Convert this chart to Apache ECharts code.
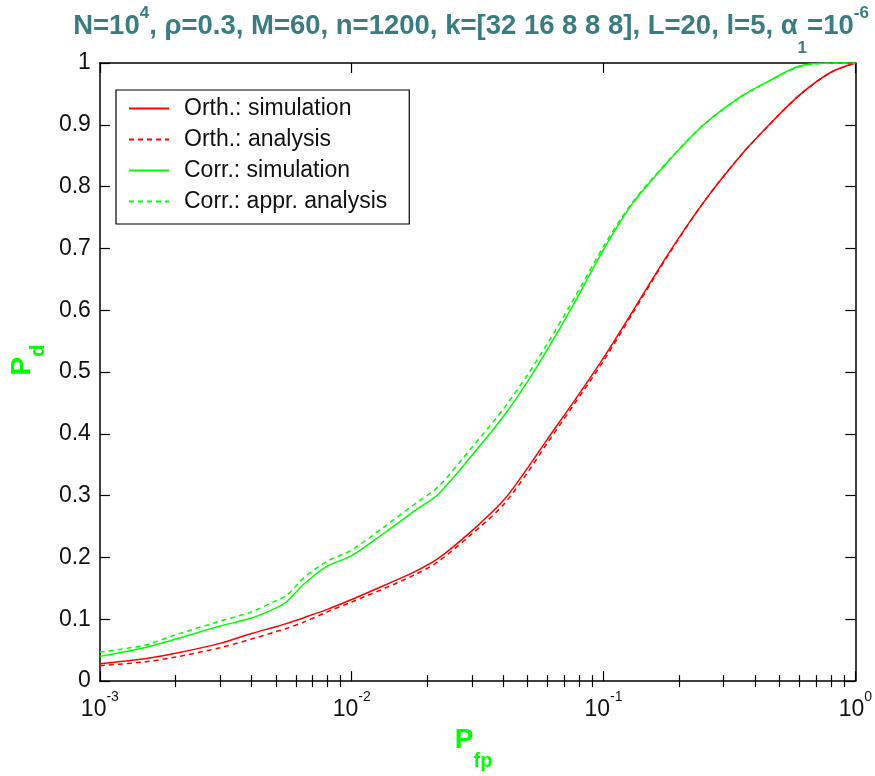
<!DOCTYPE html>
<html>
<head>
<meta charset="utf-8">
<script src="https://cdn.jsdelivr.net/npm/echarts@6/dist/echarts.min.js"></script>
<style>
html,body{margin:0;padding:0;background:#fff;}
#chart{width:875px;height:776px;}
</style>
</head>
<body>
<div id="chart"></div>
<script>
// ---- data ----
const pfp = [0.001, 0.0015, 0.002, 0.003, 0.004, 0.005, 0.0055, 0.0065, 0.008, 0.01, 0.0135, 0.018, 0.022, 0.03, 0.04, 0.05, 0.06, 0.075, 0.1, 0.13, 0.18, 0.25, 0.35, 0.45, 0.6, 0.8, 1.0];
const orthSim = [0.028, 0.036, 0.045, 0.061, 0.077, 0.088, 0.093, 0.103, 0.116, 0.132, 0.155, 0.178, 0.198, 0.243, 0.292, 0.345, 0.392, 0.448, 0.523, 0.597, 0.690, 0.775, 0.850, 0.898, 0.948, 0.985, 1.000];
const orthAna = [0.025, 0.031, 0.039, 0.054, 0.068, 0.080, 0.085, 0.096, 0.112, 0.128, 0.150, 0.173, 0.193, 0.238, 0.285, 0.338, 0.386, 0.443, 0.518, 0.594, 0.688, 0.775, 0.850, 0.898, 0.948, 0.985, 1.000];
const corrSim = [0.040, 0.054, 0.068, 0.089, 0.102, 0.118, 0.128, 0.158, 0.186, 0.203, 0.240, 0.277, 0.302, 0.365, 0.428, 0.485, 0.537, 0.605, 0.698, 0.772, 0.840, 0.900, 0.945, 0.970, 0.995, 1.000, 1.000];
const corrAna = [0.047, 0.058, 0.075, 0.097, 0.112, 0.130, 0.138, 0.168, 0.194, 0.212, 0.250, 0.288, 0.314, 0.378, 0.440, 0.496, 0.547, 0.613, 0.703, 0.774, 0.841, 0.900, 0.945, 0.970, 0.994, 1.000, 1.000];
const seriesNames = ['Orth.: simulation', 'Orth.: analysis', 'Corr.: simulation', 'Corr.: appr. analysis'];
const xMajorTicks = [0.001, 0.01, 0.1, 1];
const xMajorExp = ['-3', '-2', '-1', '0'];
const xMinorTicks = [0.002,0.003,0.004,0.005,0.006,0.007,0.008,0.009,0.02,0.03,0.04,0.05,0.06,0.07,0.08,0.09,0.2,0.3,0.4,0.5,0.6,0.7,0.8,0.9];
const yTickLabels = ['0','0.1','0.2','0.3','0.4','0.5','0.6','0.7','0.8','0.9','1'];

// ---- chart ----
const FONT = '"Liberation Sans", Arial, sans-serif';
const TITLE_C = '#3b7c80';
const RED = '#ff0000', GREEN = '#00ff00';

function pairs(ys){ return pfp.map((x,i)=>[x, ys[i]]); }

const baseLog = {type:'log', logBase:10, min:0.001, max:1, gridIndex:0, splitLine:{show:false}};
const tickLine = {color:'#000', width:1.2};

const xAxes = [
  Object.assign({}, baseLog, {
    position:'bottom',
    axisLine:{show:true, onZero:false, lineStyle:{color:'#000', width:1.5}},
    axisTick:{show:true, inside:true, length:10, customValues:xMajorTicks, lineStyle:tickLine},
    axisLabel:{show:true, margin:7, customValues:xMajorTicks,
      formatter:function(v){ const i = xMajorTicks.findIndex(t=>Math.abs(Math.log10(t)-Math.log10(v))<1e-6); return '{b|10}{s|' + xMajorExp[i] + '}'; },
      rich:{
        b:{fontFamily:FONT, fontSize:23, color:'#111', lineHeight:24, padding:[10,0,0,0], verticalAlign:'top'},
        s:{fontFamily:FONT, fontSize:14, color:'#111', lineHeight:14, padding:[2,0,0,0], verticalAlign:'top'}
      }},
    name:'{p|P}{s|fp}', nameLocation:'middle', nameGap:12,
    nameTextStyle:{padding:[0,8,0,0], rich:{
      p:{fontFamily:FONT, fontWeight:'bold', fontSize:28, color:GREEN, lineHeight:28, verticalAlign:'top'},
      s:{fontFamily:FONT, fontWeight:'bold', fontSize:20, color:GREEN, lineHeight:20, padding:[25,0,0,0], verticalAlign:'top'}
    }}
  }),
  Object.assign({}, baseLog, {
    position:'bottom', axisLine:{show:false},
    axisTick:{show:true, inside:true, length:6, customValues:xMinorTicks, lineStyle:tickLine},
    axisLabel:{show:false}
  }),
  Object.assign({}, baseLog, {
    position:'top',
    axisLine:{show:true, onZero:false, lineStyle:{color:'#000', width:1.5}},
    axisTick:{show:true, inside:true, length:10, customValues:xMajorTicks, lineStyle:tickLine},
    axisLabel:{show:false}
  }),
  Object.assign({}, baseLog, {
    position:'top', axisLine:{show:false},
    axisTick:{show:true, inside:true, length:6, customValues:xMinorTicks, lineStyle:tickLine},
    axisLabel:{show:false}
  })
];

const baseVal = {type:'value', min:0, max:1, interval:0.1, splitLine:{show:false}};
const yAxes = [
  Object.assign({}, baseVal, {
    position:'left',
    axisLine:{show:true, onZero:false, lineStyle:{color:'#000', width:1.5}},
    axisTick:{show:true, inside:true, length:10, lineStyle:tickLine},
    axisLabel:{show:true, margin:9, fontFamily:FONT, fontSize:23, color:'#111',
      formatter:function(v){ return yTickLabels[Math.round(v*10)]; }},
    name:'{p|P}{s|d}', nameLocation:'middle', nameGap:39,
    nameTextStyle:{padding:[0,0,0,24], rich:{
      p:{fontFamily:FONT, fontWeight:'bold', fontSize:28, color:GREEN, lineHeight:28, verticalAlign:'top'},
      s:{fontFamily:FONT, fontWeight:'bold', fontSize:20, color:GREEN, lineHeight:20, padding:[20,0,0,0], verticalAlign:'top'}
    }}
  }),
  Object.assign({}, baseVal, {
    position:'right',
    axisLine:{show:true, onZero:false, lineStyle:{color:'#000', width:1.5}},
    axisTick:{show:true, inside:true, length:10, lineStyle:tickLine},
    axisLabel:{show:false}
  })
];

function lineSeries(name, ys, color, dashed){
  return {
    name:name, type:'line', xAxisIndex:0, yAxisIndex:0, data:pairs(ys),
    symbol:'none', showSymbol:false, smooth:0.3,
    lineStyle:{color:color, width:1.5, type: dashed ? [5,4] : 'solid'},
    itemStyle:{color:color}, z: dashed ? 3 : 2, animation:false
  };
}

const option = {
  animation:false,
  backgroundColor:'#fff',
  title:{
    text:'{a|N=10}{sup|4}{a|, ρ=0.3, M=60, n=1200, k=[32 16 8 8 8], L=20, l=5, α}{sub|1}{a|=10}{sup|-6}',
    left:471, top:0, padding:0, textAlign:'center',
    textStyle:{rich:{
      a:{fontFamily:FONT, fontSize:27.5, fontWeight:'bold', color:TITLE_C, lineHeight:28, padding:[12,0,0,0], verticalAlign:'top'},
      sup:{fontFamily:FONT, fontSize:17, fontWeight:'bold', color:TITLE_C, lineHeight:17, padding:[5,0,0,0], verticalAlign:'top'},
      sub:{fontFamily:FONT, fontSize:17, fontWeight:'bold', color:TITLE_C, lineHeight:17, padding:[40,0,0,0], verticalAlign:'top'}
    }}
  },
  legend:{
    orient:'vertical', left:116, top:90,
    data:seriesNames,
    backgroundColor:'#fff', borderColor:'#000', borderWidth:1.2,
    padding:[7,22,11,12], itemGap:8, itemWidth:40, itemHeight:14,
    itemStyle:{opacity:0},
    textStyle:{fontFamily:FONT, fontSize:23, color:'#111', padding:[0,0,0,10]}
  },
  grid:{left:88, right:18, top:63, bottom:59, containLabel:false},
  xAxis:xAxes,
  yAxis:yAxes,
  series:[
    lineSeries(seriesNames[0], orthSim, RED, false),
    lineSeries(seriesNames[1], orthAna, RED, true),
    lineSeries(seriesNames[2], corrSim, GREEN, false),
    lineSeries(seriesNames[3], corrAna, GREEN, true)
  ]
};

const chart = echarts.init(document.getElementById('chart'), null, {renderer:'canvas'});
chart.setOption(option);
</script>
</body>
</html>
